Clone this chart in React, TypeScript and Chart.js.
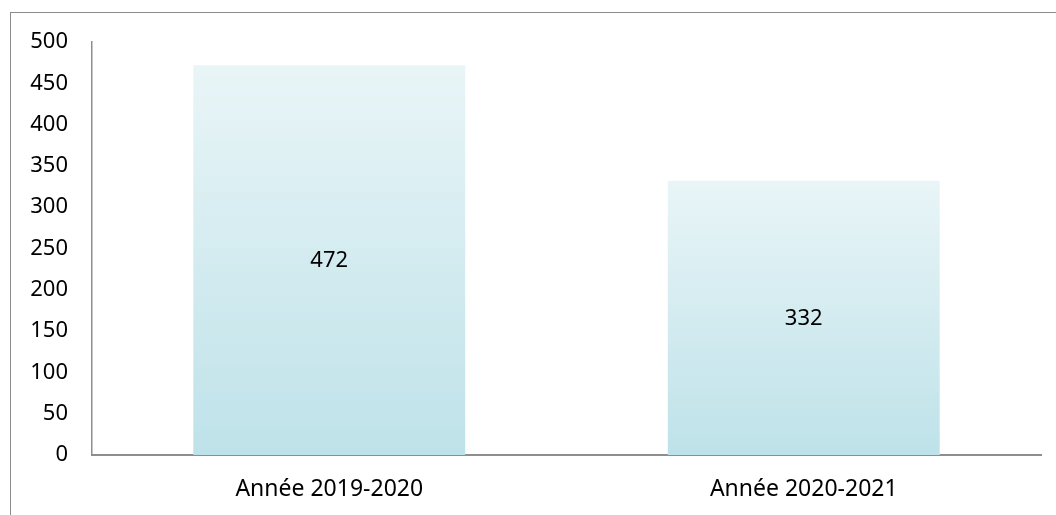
import React, { useEffect, useRef } from "react";
import { Chart, registerables } from "chart.js";

Chart.register(...registerables);

const categories = ["Année 2019-2020", "Année 2020-2021"];
const values = [472, 332];
const yTicks = [0, 50, 100, 150, 200, 250, 300, 350, 400, 450, 500];

const FONT = "'Noto Sans', sans-serif";

export default function App() {
  const ref = useRef<HTMLCanvasElement | null>(null);

  useEffect(() => {
    document.body.style.margin = "0";
    const canvas = ref.current!;
    const labelPlugin = {
      id: "midLabels",
      afterDatasetsDraw(chart: any) {
        const ctx = chart.ctx;
        const meta = chart.getDatasetMeta(0);
        ctx.save();
        ctx.font = `22px ${FONT}`;
        ctx.fillStyle = "#000";
        ctx.textAlign = "center";
        ctx.textBaseline = "middle";
        meta.data.forEach((bar: any, i: number) => {
          const y = (bar.y + bar.base) / 2 + 1;
          ctx.fillText(String(values[i]), bar.x, y);
        });
        ctx.restore();
      },
    };

    const chart = new Chart(canvas, {
      type: "bar",
      data: {
        labels: categories,
        datasets: [
          {
            data: values,
            backgroundColor: (c: any) => {
              const ch = c.chart;
              const ys = ch.scales?.y;
              if (!ys || c.raw == null) return "#d4ecf0";
              const top = ys.getPixelForValue(c.raw);
              const base = ys.getPixelForValue(0);
              if (!isFinite(top) || !isFinite(base) || top === base) return "#d4ecf0";
              const g = ch.ctx.createLinearGradient(0, top, 0, base);
              g.addColorStop(0, "#e9f5f7");
              g.addColorStop(1, "#bee2e9");
              return g;
            },
            borderWidth: 0,
            categoryPercentage: 0.573,
            barPercentage: 1,
          },
        ],
      },
      options: {
        animation: false,
        responsive: false,
        maintainAspectRatio: false,
        layout: { padding: { left: 0, right: 15, top: 42, bottom: 0 } },
        plugins: { legend: { display: false }, tooltip: { enabled: false } },
        scales: {
          x: {
            grid: { display: false, drawTicks: false },
            border: { display: true, color: "#8e8e8e", width: 2 },
            ticks: {
              color: "#000",
              font: { family: FONT, size: 23 },
              padding: 21,
            },
            afterFit: (s: any) => {
              s.height = 60;
            },
          },
          y: {
            min: 0,
            max: 500,
            afterBuildTicks: (s: any) => {
              s.ticks = yTicks.map((v) => ({ value: v }));
            },
            grid: { display: false, drawTicks: false },
            border: { display: true, color: "#8e8e8e", width: 1.5 },
            ticks: {
              color: "#000",
              font: { family: FONT, size: 22 },
              padding: 24,
            },
            afterFit: (s: any) => {
              s.width = 92;
            },
          },
        },
      },
      plugins: [labelPlugin],
    });
    return () => chart.destroy();
  }, []);

  return (
    <div style={{ position: "relative", width: 1056, height: 515, overflow: "hidden", background: "#fff" }}>
      <canvas ref={ref} width={1056} height={515} style={{ position: "absolute", left: 0, top: 0 }} />
      <div
        style={{
          position: "absolute",
          left: 10,
          top: 12,
          width: 1200,
          height: 700,
          borderLeft: "1.5px solid #8c8c8c",
          borderTop: "1.5px solid #8c8c8c",
          pointerEvents: "none",
        }}
      />
    </div>
  );
}
